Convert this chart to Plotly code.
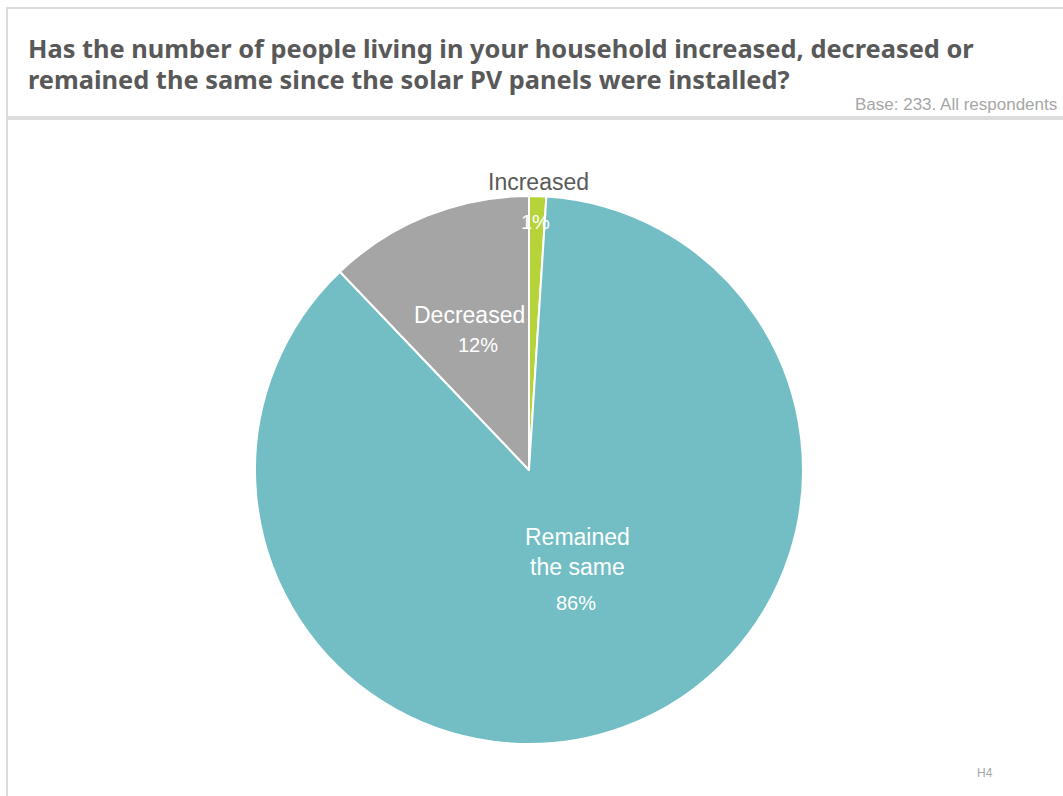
import plotly.graph_objects as go

# Survey responses (share of respondents, %)
categories = ["Increased", "Remained the same", "Decreased"]
values = [1, 86, 12]
colors = ["#b6d33a", "#72bec4", "#a5a5a5"]

W, H = 1063, 796
title_lines = [
    "Has the number of people living in your household increased, decreased or",
    "remained the same since the solar PV panels were installed?",
]
base_note = "Base: 233. All respondents"
footer_code = "H4"

# pie geometry in pixels
cx, cy, R = 529, 470, 274


def px(x):
    return x / W


def py(y):
    return 1 - y / H


fig = go.Figure(
    go.Pie(
        labels=categories,
        values=values,
        sort=False,
        direction="clockwise",
        rotation=0,
        marker=dict(colors=colors, line=dict(color="white", width=2)),
        textinfo="none",
        hoverinfo="label+percent",
        domain=dict(x=[px(cx - R), px(cx + R)], y=[py(cy + R), py(cy - R)]),
        showlegend=False,
    )
)

label_font = "Liberation Sans, Arial, sans-serif"
narrow_font = "Liberation Sans Narrow, Arial Narrow, Liberation Sans, sans-serif"
title_font = dict(family="Noto Sans", size=25.4, color="#595959", weight="bold")
annotations = [
    dict(x=px(26), y=py(48), text=title_lines[0], xanchor="left", yanchor="middle", font=title_font),
    dict(x=px(26), y=py(79), text=title_lines[1], xanchor="left", yanchor="middle", font=title_font),
    dict(x=px(1059), y=py(104), text=base_note, xanchor="right", yanchor="middle",
         font=dict(family=narrow_font, size=17, color="#a6a6a6")),
    dict(x=px(985), y=py(773), text=footer_code, xanchor="center", yanchor="middle",
         font=dict(family=label_font, size=12, color="#a6a6a6")),
    # slice labels
    dict(x=px(538), y=py(182), text=categories[0], xanchor="center", yanchor="middle",
         font=dict(family=label_font, size=23, color="#595959")),
    dict(x=px(535), y=py(222), text=f"{values[0]}%", xanchor="center", yanchor="middle",
         font=dict(family=label_font, size=20, color="white")),
    dict(x=px(469), y=py(315), text=categories[2], xanchor="center", yanchor="middle",
         font=dict(family=label_font, size=23, color="white")),
    dict(x=px(478), y=py(345), text=f"{values[2]}%", xanchor="center", yanchor="middle",
         font=dict(family=label_font, size=20, color="white")),
    dict(x=px(577), y=py(552), text="Remained<br>the same", xanchor="center", yanchor="middle",
         font=dict(family=label_font, size=23, color="white")),
    dict(x=px(576), y=py(603), text=f"{values[1]}%", xanchor="center", yanchor="middle",
         font=dict(family=label_font, size=20, color="white")),
]
for a in annotations:
    a.update(xref="paper", yref="paper", showarrow=False)

line_col = "#dcdcdc"
shapes = [
    dict(type="line", x0=px(6), x1=1, y0=py(8), y1=py(8), line=dict(color=line_col, width=2)),
    dict(type="line", x0=px(7), x1=px(7), y0=py(8), y1=0, line=dict(color=line_col, width=2)),
    dict(type="line", x0=px(7), x1=1, y0=py(118), y1=py(118), line=dict(color=line_col, width=4)),
]
for s in shapes:
    s.update(xref="paper", yref="paper")

fig.update_layout(
    width=W,
    height=H,
    margin=dict(l=0, r=0, t=0, b=0),
    paper_bgcolor="white",
    plot_bgcolor="white",
    annotations=annotations,
    shapes=shapes,
)

fig.write_html("out.html")
